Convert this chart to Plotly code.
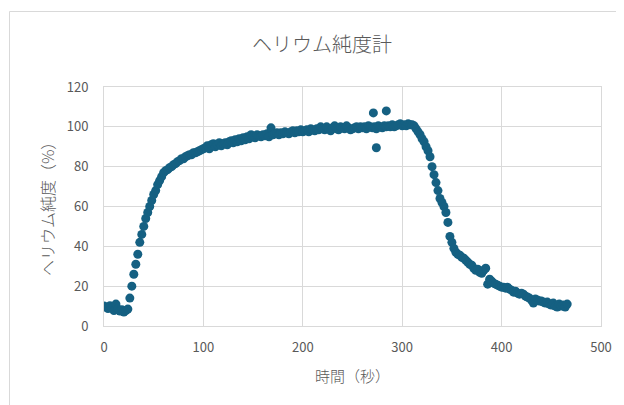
import plotly.graph_objects as go

# ---- data ----
times = list(range(0, 468, 2))
purity = [
    # 0-24
    10.0, 9.5, 8.8, 10.2, 9.0, 7.8, 11.0, 8.5, 7.5, 8.2, 7.0, 7.8, 8.5,
    # 26-60
    14, 20, 26, 31, 36, 42, 46, 50, 54, 57, 60, 63, 66, 68, 71, 73, 75, 77,
    # 62-100
    78, 78.5, 79.5, 80, 81, 81.5, 82.5, 83, 84, 84, 85, 85.5, 86, 86, 87, 87, 87.5, 88, 88.5, 89,
    # 102-200
    89.5, 90.5, 89, 91, 91.5, 90, 91, 92, 90.5, 91.5, 92, 91, 92.5, 93, 92, 93.5, 92.5, 94, 93, 94.5,
    93.5, 95, 94, 96, 95, 94.5, 96, 95.5, 95, 96, 95.5, 96.5, 95, 99.5, 96, 96.5, 97, 96, 97, 96.5,
    97.5, 97, 96.5, 97.5, 98, 97, 98, 97.5, 98.5, 97.5,
    # 202-310
    98, 98.5, 97.5, 99, 98.5, 98, 99, 98.5, 100, 99, 98.5, 100, 99, 98, 99.5, 100.5, 99, 98.5, 100, 99.5,
    99, 100.5, 99.5, 98.5, 99, 99.5, 100, 99, 100, 99.5, 100, 99, 100.5, 100, 99.5, 100, 99, 100.5, 100, 99.5,
    100.5, 100, 100.5, 100, 101, 100, 100.5, 101, 101.5, 100.5, 101, 100.5, 101.5, 101, 101,
    # 312-350
    100.5, 99, 97.5, 96, 94, 92.5, 90, 88, 85, 80, 76, 72, 68, 64, 62, 60, 57, 52, 45, 42,
    # 352-400
    39, 37, 36, 35.5, 34.5, 34, 33, 32, 31, 30.5, 29, 28, 28.5, 27, 26.5, 28, 29, 21, 23.5, 22.5,
    21.5, 21, 20.5, 20, 19.5,
    # 402-466
    19.5, 19, 19.5, 18.5, 18, 17, 17.5, 16.5, 16, 16.5, 16, 15, 14.5, 14, 13, 11.5, 13.5, 13, 12.5, 12.5,
    12, 11.5, 12, 11, 10.5, 11.5, 10, 9.5, 11, 10, 10.5, 9.5, 11,
]
outlier_times = [271, 274, 284]
outlier_purity = [107, 89.5, 108]

x_ticks = [0, 100, 200, 300, 400, 500]
y_ticks = [0, 20, 40, 60, 80, 100, 120]

title_text = "ヘリウム純度計"
x_title = "時間（秒）"
y_title = "ヘリウム純度（%）"

all_t = times + outlier_times
all_y = purity + outlier_purity

FONT = "Noto Sans CJK JP, Noto Sans, sans-serif"
GRID = "#d9d9d9"
TXT = "#595959"

fig = go.Figure()
fig.add_trace(go.Scatter(
    x=all_t, y=all_y, mode="markers",
    marker=dict(size=9, color="#156082", line=dict(width=0)),
    showlegend=False, hoverinfo="x+y",
))

# page body has an 8px margin: compensate so the chart lands where the reference has it
OFF = 8
W, H = 624 - OFF, 405 - OFF
L, R, T, B = 104 - OFF, 23, 87 - OFF, 79
pw, ph = W - L - R, H - T - B

def px(xp):  # screen pixel -> paper x
    return (xp - OFF - L) / pw

def py(yp):  # screen pixel -> paper y
    return (H - B - (yp - OFF)) / ph

fig.update_layout(
    width=W, height=H,
    margin=dict(l=L, r=R, t=T, b=B, autoexpand=False),
    paper_bgcolor="white", plot_bgcolor="white",
    font=dict(family=FONT, color=TXT, size=13),
    title=dict(text=title_text, x=(322 - OFF) / W, xref="container", xanchor="center",
               y=1 - (45 - OFF) / H, yref="container", yanchor="middle",
               font=dict(size=20, color=TXT, family=FONT, weight=300)),
    xaxis=dict(range=[0, 500], tickvals=x_ticks, showgrid=True, gridcolor=GRID, gridwidth=1,
               zeroline=False, showline=True, linecolor=GRID, mirror=True,
               ticks="", ticklabelstandoff=9, tickfont=dict(size=13, color=TXT)),
    yaxis=dict(range=[0, 120], tickvals=y_ticks, showgrid=True, gridcolor=GRID, gridwidth=1,
               zeroline=False, showline=True, linecolor=GRID, mirror=True,
               ticks="", ticklabelstandoff=12, tickfont=dict(size=13, color=TXT)),
    annotations=[
        dict(text=x_title, x=px(352), y=py(375), xref="paper", yref="paper",
             showarrow=False, xanchor="center", yanchor="middle",
             font=dict(size=15, color=TXT, family=FONT, weight=300)),
        dict(text=y_title, x=px(47), y=py(205), xref="paper", yref="paper",
             showarrow=False, xanchor="center", yanchor="middle", textangle=-90,
             font=dict(size=16, color=TXT, family=FONT, weight=300)),
    ],
    shapes=[
        dict(type="rect", xref="paper", yref="paper",
             x0=px(9.5), y0=py(430), x1=px(650), y1=py(11.5),
             line=dict(color=GRID, width=1), fillcolor="rgba(0,0,0,0)", layer="below"),
    ],
)

fig.write_html("out.html")
